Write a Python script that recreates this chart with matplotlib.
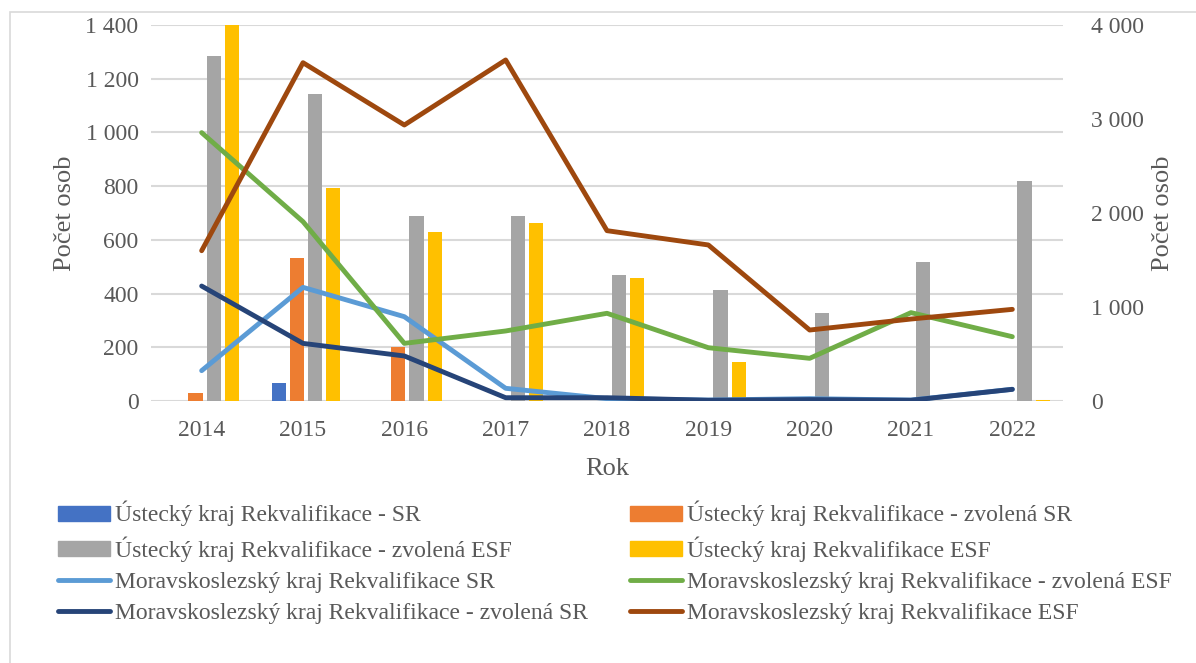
import matplotlib
matplotlib.use("Agg")
import matplotlib.pyplot as plt
import numpy as np
from matplotlib.patches import Patch, Rectangle
from matplotlib.lines import Line2D

plt.rcParams["font.family"] = ["Liberation Serif", "DejaVu Serif"]

years = ["2014", "2015", "2016", "2017", "2018", "2019", "2020", "2021", "2022"]

# Ústecký kraj (bars, left axis)
ul_sr = [0, 66, 0, 0, 0, 0, 0, 0, 0]
ul_zvol_sr = [30, 534, 200, 0, 0, 0, 0, 0, 0]
ul_zvol_esf = [1285, 1144, 689, 689, 468, 412, 326, 516, 818]
ul_esf = [1400, 793, 629, 663, 458, 144, 0, 0, 3]

# Moravskoslezský kraj (lines, right axis)
ms_sr = [323, 1209, 897, 135, 25, 10, 25, 10, 125]
ms_zvol_esf = [2855, 1908, 613, 745, 933, 567, 454, 940, 684]
ms_zvol_sr = [1223, 613, 479, 35, 35, 8, 15, 8, 124]
ms_esf = [1599, 3599, 2936, 3628, 1812, 1660, 755, 872, 975]

bar_labels = ["Ústecký kraj Rekvalifikace - SR",
              "Ústecký kraj Rekvalifikace - zvolená SR",
              "Ústecký kraj Rekvalifikace - zvolená ESF",
              "Ústecký kraj Rekvalifikace ESF"]
line_labels = ["Moravskoslezský kraj Rekvalifikace SR",
               "Moravskoslezský kraj Rekvalifikace - zvolená ESF",
               "Moravskoslezský kraj Rekvalifikace - zvolená SR",
               "Moravskoslezský kraj Rekvalifikace ESF"]
bar_colors = ["#4472C4", "#ED7D31", "#A5A5A5", "#FFC000"]
line_colors = ["#5B9BD5", "#70AD47", "#264478", "#9E480E"]

txt = "#595959"


def fmt(v):
    return f"{int(v):,}".replace(",", " ")


fig = plt.figure(figsize=(11.96, 6.63), dpi=100)
fig.patches.append(Rectangle((10 / 1196, -0.1), 1.2, 1 - 12 / 663 + 0.1,
                             transform=fig.transFigure, fill=False,
                             edgecolor="#D9D9D9", linewidth=1.2))

ax = fig.add_axes([151 / 1196, 1 - 401 / 663, 912 / 1196, 376 / 663])
x = np.arange(len(years))
bw, step = 0.14, 0.18
for i, (vals, col) in enumerate(zip([ul_sr, ul_zvol_sr, ul_zvol_esf, ul_esf], bar_colors)):
    ax.bar(x + (i - 1.5) * step + 0.03, vals, width=bw, color=col, zorder=2)

ax.set_xlim(-0.5, len(years) - 0.5)
ax.set_ylim(0, 1400)
ax.set_yticks(range(0, 1401, 200))
ax.set_yticklabels([fmt(v) for v in range(0, 1401, 200)])
ax.set_xticks(x)
ax.set_xticklabels(years)
ax.grid(axis="y", color="#D9D9D9", linewidth=1.5, zorder=0)
for s in ax.spines.values():
    s.set_visible(False)
ax.tick_params(length=0, labelsize=17, colors=txt, pad=9)
ax.tick_params(axis="x", pad=14)
ax.set_xlabel("Rok", fontsize=19, color=txt, labelpad=12)
ax.set_ylabel("Počet osob", fontsize=19, color=txt, labelpad=7)

ax2 = ax.twinx()
for vals, col in zip([ms_sr, ms_zvol_esf, ms_zvol_sr, ms_esf], line_colors):
    ax2.plot(x, vals, color=col, linewidth=3.5, solid_capstyle="round", zorder=3)
ax2.set_ylim(0, 4000)
ax2.set_yticks(range(0, 4001, 1000))
ax2.set_yticklabels([fmt(v) for v in range(0, 4001, 1000)])
for s in ax2.spines.values():
    s.set_visible(False)
ax2.tick_params(length=0, labelsize=17, colors=txt, pad=20)
ax2.set_ylabel("Počet osob", fontsize=19, color=txt, labelpad=6)

bar_h = [Patch(color=c) for c in bar_colors]
line_h = [Line2D([0], [0], color=c, linewidth=3.5, solid_capstyle="round") for c in line_colors]
col1_h = [bar_h[0], bar_h[2], line_h[0], line_h[2]]
col1_l = [bar_labels[0], bar_labels[2], line_labels[0], line_labels[2]]
col2_h = [bar_h[1], bar_h[3], line_h[1], line_h[3]]
col2_l = [bar_labels[1], bar_labels[3], line_labels[1], line_labels[3]]

kw = dict(frameon=False, fontsize=17, handlelength=2.2, handleheight=0.6,
          handletextpad=0.2, labelspacing=0.42, borderaxespad=0, borderpad=0,
          labelcolor=txt, loc="upper left")
fig.legend(col1_h, col1_l, bbox_to_anchor=(58 / 1196, 1 - 501 / 663), **kw)
fig.legend(col2_h, col2_l, bbox_to_anchor=(630 / 1196, 1 - 501 / 663), **kw)

fig.savefig("out.png", dpi=100)
